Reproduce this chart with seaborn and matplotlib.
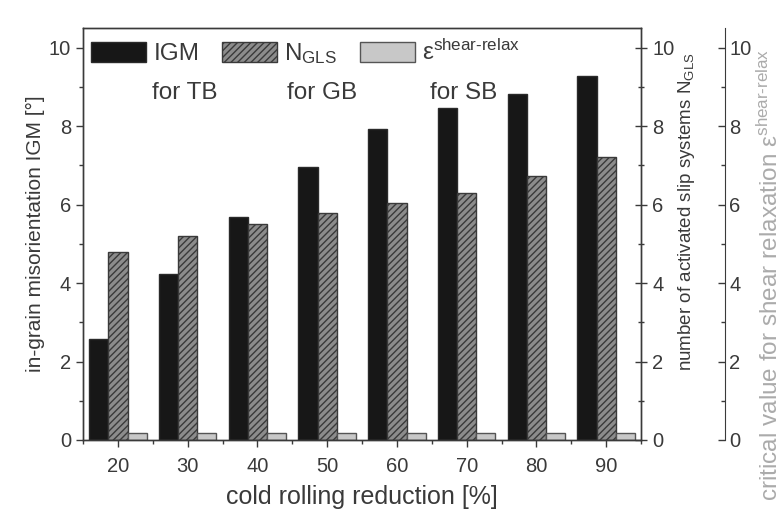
import matplotlib
matplotlib.use("Agg")
import matplotlib.pyplot as plt
import pandas as pd
import seaborn as sns
from matplotlib.ticker import MultipleLocator

# cold rolling reduction [%]
reduction = [20, 30, 40, 50, 60, 70, 80, 90]
# in-grain misorientation IGM [deg] (left axis)
igm = [2.57, 4.23, 5.69, 6.96, 7.93, 8.47, 8.83, 9.27]
# number of activated slip systems N_GLS (first right axis)
n_gls = [4.80, 5.21, 5.51, 5.79, 6.04, 6.30, 6.72, 7.22]
# critical value for shear relaxation (second right axis)
eps_shear = [0.18, 0.18, 0.18, 0.18, 0.18, 0.18, 0.18, 0.18]

series = ["IGM", "N_GLS", "eps"]
legend_labels = ["IGM", r"N$_{\mathregular{GLS}}$", r"$\mathregular{\epsilon^{shear\text{-}relax}}$"]
notes = ["for TB", "for GB", "for SB"]

df = pd.DataFrame({
    "reduction": reduction * 3,
    "value": igm + n_gls + eps_shear,
    "series": [series[0]] * len(reduction) + [series[1]] * len(reduction) + [series[2]] * len(reduction),
})

sns.set_style("ticks")
plt.rcParams["font.family"] = ["Liberation Sans", "DejaVu Sans"]
plt.rcParams["mathtext.fontset"] = "custom"
plt.rcParams["mathtext.rm"] = "Liberation Sans"
plt.rcParams["mathtext.it"] = "Liberation Sans:italic"
plt.rcParams["mathtext.bf"] = "Liberation Sans:bold"
plt.rcParams["hatch.linewidth"] = 1.0

dark = "#3a3a3a"
light = "#ababab"
faces = {"IGM": "#171717", "N_GLS": "#8c8c8c", "eps": "#c8c8c8"}
edges = {"IGM": "#2a2a2a", "N_GLS": "#3a3a3a", "eps": "#555555"}

fig = plt.figure(figsize=(7.79, 5.14), dpi=100)
ax = fig.add_axes([0.1066, 0.144, 0.7163, 0.8015])

sns.barplot(data=df, x="reduction", y="value", hue="series", hue_order=series,
            native_scale=True, width=0.825, palette=faces, errorbar=None,
            legend=False, ax=ax)

for name, cont in zip(series, ax.containers):
    for p in cont.patches:
        p.set_edgecolor(edges[name])
        p.set_linewidth(1.0)
        if name == "N_GLS":
            p.set_hatch("/////")

ymax = 10.5
ax.set_xlim(15, 95)
ax.set_ylim(0, ymax)
ax.set_xticks(reduction)
ax.xaxis.set_minor_locator(MultipleLocator(5))
ax.yaxis.set_major_locator(MultipleLocator(2))
ax.yaxis.set_minor_locator(MultipleLocator(1))
ax.set_xlabel("cold rolling reduction [%]", fontsize=18, color=dark, labelpad=7)
ax.set_ylabel("in-grain misorientation IGM [°]", fontsize=15, color=dark, labelpad=3)
ax.tick_params(which="major", direction="out", length=5, width=1, colors=dark, labelsize=14.5)
ax.tick_params(which="minor", direction="out", length=3, width=1, colors=dark)
ax.tick_params(axis="x", pad=7)
for s in ax.spines.values():
    s.set_color(dark)
    s.set_linewidth(1.0)

# first right axis, same scale
ax2 = ax.twinx()
ax2.set_ylim(0, ymax)
ax2.yaxis.set_major_locator(MultipleLocator(2))
ax2.yaxis.set_minor_locator(MultipleLocator(1))
ax2.tick_params(which="major", direction="inout", length=8, width=1, colors=dark, labelsize=14.5, pad=4)
ax2.tick_params(which="minor", direction="inout", length=5, width=1, colors=dark)
ax2.set_ylabel(r"number of activated slip systems N$_{\mathregular{GLS}}$", fontsize=13.5,
               color=dark, labelpad=1)
ax2.yaxis.label.set_y(0.553)
for s in ax2.spines.values():
    s.set_color(dark)
    s.set_linewidth(1.0)

# second right axis, offset
ax3 = ax.twinx()
ax3.spines["right"].set_position(("axes", 1.151))
for k in ["left", "top", "bottom"]:
    ax3.spines[k].set_visible(False)
ax3.spines["right"].set_color(dark)
ax3.set_ylim(0, ymax)
ax3.yaxis.set_major_locator(MultipleLocator(2))
ax3.yaxis.set_minor_locator(MultipleLocator(1))
ax3.tick_params(which="major", direction="in", length=5, width=1, colors=dark, labelsize=14.5, pad=3)
ax3.tick_params(which="minor", direction="in", length=3, width=1, colors=dark)
ax3.set_ylabel(r"critical value for shear relaxation $\mathregular{\epsilon^{shear\text{-}relax}}$",
               fontsize=17.5, color=light, labelpad=4)
ax3.yaxis.label.set_y(0.40)

handles = [cont.patches[0] for cont in ax.containers]
leg = ax.legend(handles, legend_labels, ncol=3, loc="upper left", bbox_to_anchor=(-0.007, 1.0),
                frameon=False, fontsize=17.5, handlelength=2.25, handleheight=0.95,
                handletextpad=0.3, columnspacing=0.95, borderaxespad=0.1)
for t in leg.get_texts():
    t.set_color(dark)

for xpos, note in zip([0.124, 0.366, 0.622], notes):
    ax.text(xpos, 0.843, note, transform=ax.transAxes, fontsize=17.5, color=dark, va="center")

fig.savefig("out.png", dpi=100)
